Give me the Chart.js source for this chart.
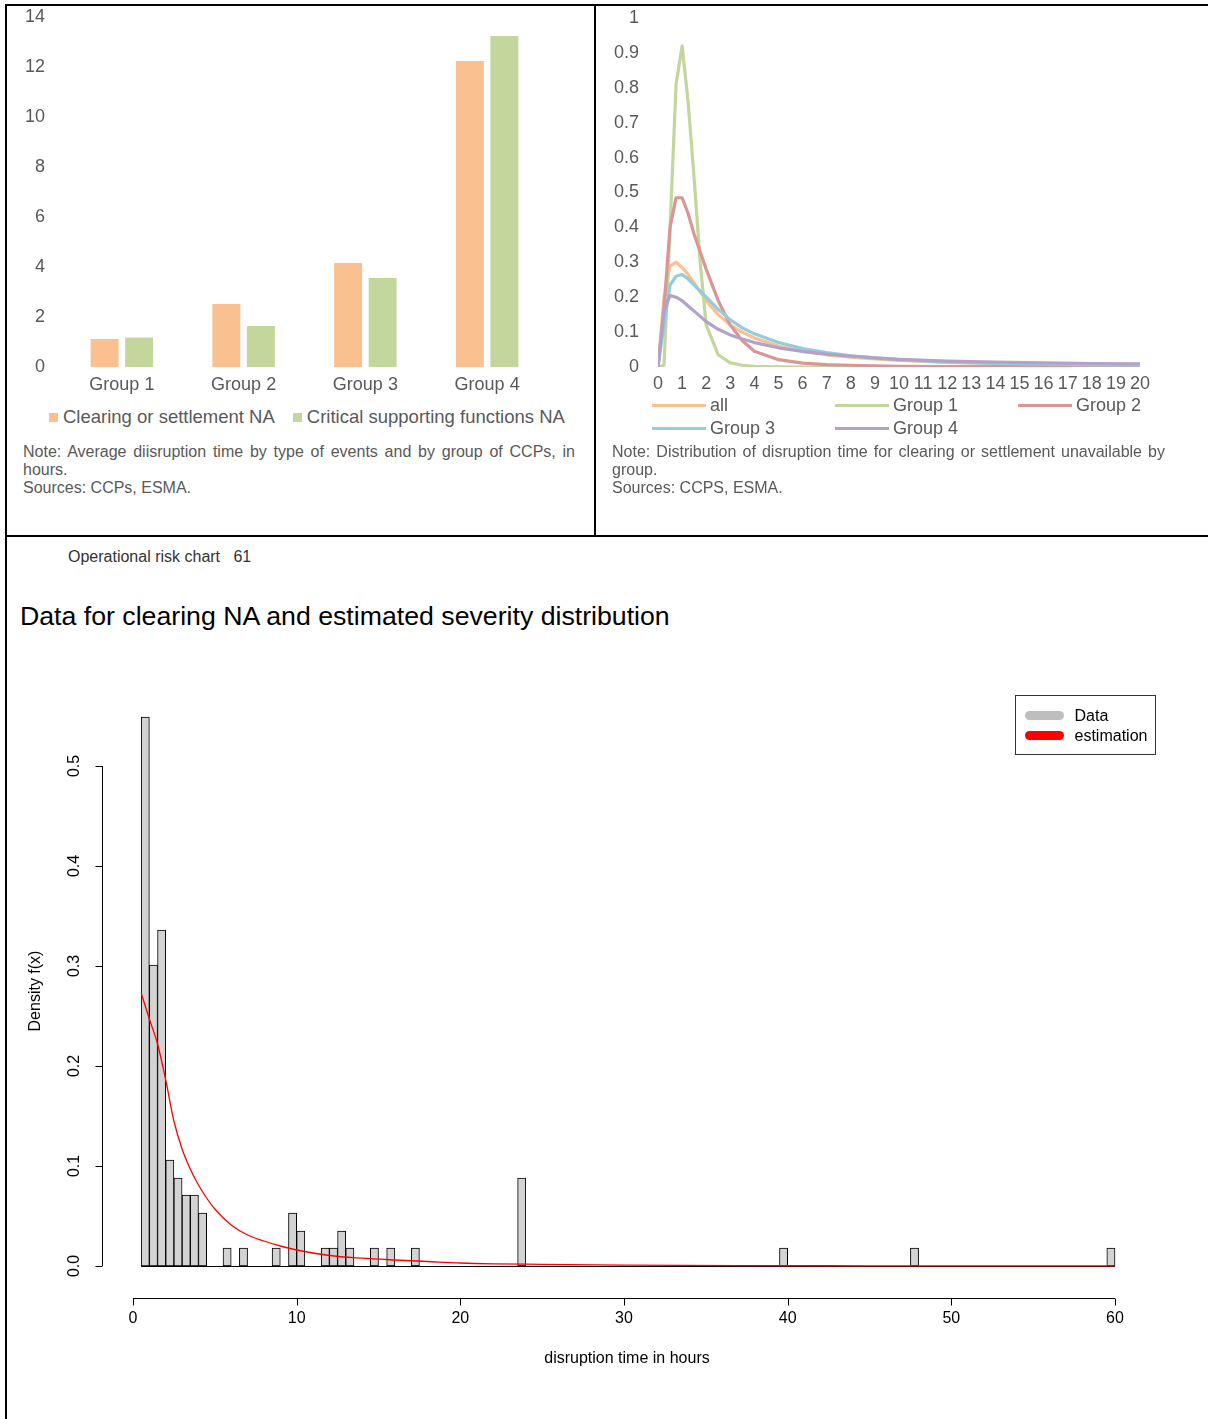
<!DOCTYPE html>
<html>
<head>
<meta charset="utf-8">
<script src="https://cdn.jsdelivr.net/npm/chart.js@4.4.1/dist/chart.umd.min.js"></script>
<style>
    body { margin: 0; width: 1208px; height: 1419px; position: relative; overflow: hidden; background: #fff;
           font-family: "Liberation Sans", Arial, sans-serif; }
    .rule { position: absolute; background: #000; }
    .box { position: absolute; }
    .note { position: absolute; font-size: 16px; line-height: 18px; color: #595959; text-align: justify; }
    .legA { position: absolute; font-size: 18.5px; line-height: 20px; color: #595959; white-space: nowrap; }
    .legA .sq { display: inline-block; width: 9px; height: 9px; margin-right: 5px; vertical-align: 1px; }
    .legB { position: absolute; display: grid; grid-template-columns: 183px 183px 183px; grid-auto-rows: 23px;
            font-size: 18px; color: #595959; }
    .legB div { display: flex; align-items: center; }
    .legB span { display: inline-block; width: 54px; height: 3px; margin-right: 4px; }
</style>
</head>
<body>
<div class="rule" style="left:5px;top:4px;width:1203px;height:2px"></div>
<div class="rule" style="left:5px;top:4px;width:2px;height:1415px"></div>
<div class="rule" style="left:594px;top:4px;width:2px;height:533px"></div>
<div class="rule" style="left:5px;top:535px;width:1203px;height:2px"></div>

<canvas id="barchart" class="box" width="587" height="400" style="left:7px;top:6px"></canvas>
<div id="legendA" class="legA" style="left:49px;top:407px"></div>
<div class="note" style="left:23px;top:443px;width:552px">Note: Average diisruption time by type of events and by group of CCPs, in hours.<br>Sources: CCPs, ESMA.</div>

<canvas id="linechart" class="box" width="611" height="400" style="left:597px;top:6px"></canvas>
<div id="legendB" class="legB" style="left:652px;top:394px"></div>
<div class="note" style="left:612px;top:443px;width:553px">Note: Distribution of disruption time for clearing or settlement unavailable by group.<br>Sources: CCPS, ESMA.</div>

<div class="box" style="left:68px;top:548px;font-size:16px;color:#333;white-space:pre">Operational risk chart   61</div>
<div class="box" style="left:20px;top:601px;font-size:26.7px;color:#000">Data for clearing NA and estimated severity distribution</div>
<canvas id="histchart" class="box" width="1201" height="779" style="left:7px;top:640px"></canvas>

<script>
// bar chart: average disruption time (hours)
const barGroups = ["Group 1", "Group 2", "Group 3", "Group 4"];
const barNames = ["Clearing or settlement NA", "Critical supporting functions NA"];
const clearingNA = [1.12, 2.52, 4.16, 12.24];
const supportNA = [1.18, 1.64, 3.56, 13.24];
const barColors = ["#FAC090", "#C3D69B"];

// line chart: distribution of disruption time by group
const lineX = [0, 0.25, 0.5, 0.75, 1, 1.25, 1.5, 1.75, 2, 2.5, 3, 3.5, 4, 5, 6, 7, 8, 9, 10, 12, 14, 16, 18, 20];
const lineNames = ["all", "Group 1", "Group 2", "Group 3", "Group 4"];
const distAll = [0, 0.20, 0.29, 0.30, 0.285, 0.265, 0.24, 0.215, 0.19, 0.15, 0.12, 0.10, 0.083, 0.06, 0.045, 0.035, 0.028, 0.023, 0.019, 0.013, 0.010, 0.008, 0.006, 0.005];
const distG1 = [0, 0.005, 0.40, 0.81, 0.92, 0.76, 0.54, 0.30, 0.12, 0.035, 0.012, 0.005, 0.002, 0.0005, 0, 0, 0, 0, 0, 0, 0, 0, 0, 0];
const distG2 = [0, 0.17, 0.40, 0.485, 0.485, 0.44, 0.38, 0.33, 0.28, 0.19, 0.12, 0.075, 0.045, 0.021, 0.011, 0.007, 0.005, 0.003, 0.002, 0.001, 0.001, 0.001, 0.001, 0.001];
const distG3 = [0, 0.12, 0.235, 0.26, 0.265, 0.252, 0.235, 0.218, 0.20, 0.165, 0.135, 0.112, 0.095, 0.07, 0.053, 0.041, 0.032, 0.026, 0.021, 0.014, 0.010, 0.008, 0.006, 0.005];
const distG4 = [0, 0.16, 0.205, 0.20, 0.19, 0.175, 0.16, 0.145, 0.13, 0.108, 0.092, 0.08, 0.07, 0.055, 0.045, 0.037, 0.031, 0.026, 0.022, 0.017, 0.014, 0.012, 0.010, 0.009];
const lineColors = ["#FAC08F", "#C3D69B", "#D99694", "#93CDDD", "#B3A2C7"];

// histogram: clearing NA durations (0.5 hour bins) and fitted density
const binWidth = 0.5;
const histBinStart = [0.5, 1.0, 1.5, 2.0, 2.5, 3.0, 3.5, 4.0, 5.5, 6.5, 8.5, 9.5, 10.0, 11.5, 12.0, 12.5, 13.0, 14.5, 15.5, 17.0, 23.5, 39.5, 47.5, 59.5];
const histDensity = [0.549, 0.301, 0.336, 0.106, 0.088, 0.071, 0.071, 0.053, 0.018, 0.018, 0.018, 0.053, 0.035, 0.018, 0.018, 0.035, 0.018, 0.018, 0.018, 0.018, 0.088, 0.018, 0.018, 0.018];
const estX = [0.5, 1, 1.5, 2, 2.5, 3, 3.5, 4, 4.5, 5, 6, 7, 8, 9, 10, 12, 14, 16, 18, 20, 22, 25, 30, 37, 45, 60];
const estY = [0.273, 0.247, 0.222, 0.186, 0.145, 0.117, 0.097, 0.081, 0.068, 0.057, 0.041, 0.031, 0.025, 0.020, 0.016, 0.0105, 0.0078, 0.006, 0.0045, 0.003, 0.0022, 0.0017, 0.0009, 0.0004, 0.0002, 0.0001];
const histXTicks = [0, 10, 20, 30, 40, 50, 60];
const histYTicks = [0, 0.1, 0.2, 0.3, 0.4, 0.5];

Chart.defaults.font.family = '"Liberation Sans", Arial, sans-serif';
Chart.defaults.animation = false;
Chart.defaults.plugins.tooltip.enabled = false;
Chart.defaults.plugins.legend.display = false;

const grey = "#595959";

// y axis with fixed width and no extra top/bottom padding from the tick labels
const fixedY = (w) => (scale) => {
    scale.width = w;
    scale.paddingTop = 0;
    scale.paddingBottom = 0;
};

// ---- bar chart
new Chart(document.getElementById("barchart"), {
    type: "bar",
    data: {
        labels: barGroups,
        datasets: [
            { label: barNames[0], data: clearingNA, backgroundColor: barColors[0] },
            { label: barNames[1], data: supportNA, backgroundColor: barColors[1] },
        ],
    },
    options: {
        responsive: false,
        devicePixelRatio: 1,
        categoryPercentage: 0.567,
        barPercentage: 0.81,
        layout: { padding: { top: 11, right: 46, left: 0, bottom: 0 } },
        scales: {
            x: {
                grid: { display: false, drawTicks: false },
                border: { display: false },
                ticks: { color: grey, font: { size: 18 }, padding: 7, maxRotation: 0 },
                afterFit(scale) { scale.height = 39; },
            },
            y: {
                min: 0, max: 14,
                grid: { display: false, drawTicks: false },
                border: { display: false },
                ticks: { stepSize: 2, color: grey, font: { size: 18 }, padding: 16 },
                afterFit: fixedY(54),
            },
        },
    },
});

const legA = document.getElementById("legendA");
barNames.forEach((name, i) => {
    const sq = document.createElement("span");
    sq.className = "sq";
    sq.style.background = barColors[i];
    if (i > 0) sq.style.marginLeft = "18px";
    legA.appendChild(sq);
    legA.appendChild(document.createTextNode(name));
});

// ---- line chart
const lineSeries = [distAll, distG1, distG2, distG3, distG4];
new Chart(document.getElementById("linechart"), {
    type: "line",
    data: {
        datasets: lineSeries.map((s, i) => ({
            label: lineNames[i],
            data: lineX.map((x, k) => ({ x: x, y: s[k] })),
            borderColor: lineColors[i],
            borderWidth: 3.2,
            borderJoinStyle: "round",
            borderCapStyle: "round",
            pointRadius: 0,
            tension: 0,
            order: lineSeries.length - i,
        })),
    },
    options: {
        responsive: false,
        devicePixelRatio: 1,
        layout: { padding: { top: 12, right: 68, left: 0, bottom: 0 } },
        scales: {
            x: {
                type: "linear", min: 0, max: 20,
                grid: { display: false, drawTicks: false },
                border: { display: false },
                ticks: { stepSize: 1, autoSkip: false, maxRotation: 0, color: grey, font: { size: 18 }, padding: 6 },
                afterFit(scale) { scale.height = 39; },
            },
            y: {
                min: 0, max: 1,
                grid: { display: false, drawTicks: false },
                border: { display: false },
                ticks: {
                    stepSize: 0.1, color: grey, font: { size: 18 }, padding: 19,
                    callback: (v) => String(Math.round(v * 10) / 10),
                },
                afterFit: fixedY(61),
            },
        },
    },
});

const legB = document.getElementById("legendB");
lineNames.forEach((name, i) => {
    const item = document.createElement("div");
    const sw = document.createElement("span");
    sw.style.background = lineColors[i];
    item.appendChild(sw);
    item.appendChild(document.createTextNode(name));
    legB.appendChild(item);
});

// ---- histogram with R style axes
const rAxes = {
    id: "rAxes",
    beforeDatasetsDraw(chart) {
        const { ctx, scales: { x, y } } = chart;
        const y0 = Math.round(y.getPixelForValue(0)) + 0.5;
        ctx.save();
        ctx.strokeStyle = "#000";
        ctx.lineWidth = 1;
        ctx.beginPath();
        ctx.moveTo(x.getPixelForValue(histBinStart[0]), y0);
        ctx.lineTo(x.getPixelForValue(histBinStart[histBinStart.length - 1] + binWidth), y0);
        ctx.stroke();
        ctx.restore();
    },
    afterDraw(chart) {
        const { ctx, chartArea, scales: { x, y } } = chart;
        ctx.save();
        ctx.strokeStyle = "#000";
        ctx.fillStyle = "#000";
        ctx.lineWidth = 1;
        ctx.font = '16px "Liberation Sans", Arial, sans-serif';

        // x axis
        const ax = Math.round(chartArea.bottom + 12) + 0.5;
        ctx.beginPath();
        ctx.moveTo(x.getPixelForValue(histXTicks[0]), ax);
        ctx.lineTo(x.getPixelForValue(histXTicks[histXTicks.length - 1]), ax);
        histXTicks.forEach(v => {
            const px = Math.round(x.getPixelForValue(v)) + 0.5;
            ctx.moveTo(px, ax);
            ctx.lineTo(px, ax + 7);
        });
        ctx.stroke();
        ctx.textAlign = "center";
        ctx.textBaseline = "middle";
        histXTicks.forEach(v => ctx.fillText(String(v), x.getPixelForValue(v), ax + 20));
        ctx.fillText("disruption time in hours", (chartArea.left + chartArea.right) / 2 + 3, ax + 60);

        // y axis
        const ay = Math.round(chartArea.left - 6) + 0.5;
        ctx.beginPath();
        ctx.moveTo(ay, y.getPixelForValue(histYTicks[0]));
        ctx.lineTo(ay, y.getPixelForValue(histYTicks[histYTicks.length - 1]));
        histYTicks.forEach(v => {
            const py = Math.round(y.getPixelForValue(v)) + 0.5;
            ctx.moveTo(ay, py);
            ctx.lineTo(ay - 7, py);
        });
        ctx.stroke();
        histYTicks.forEach(v => {
            ctx.save();
            ctx.translate(ay - 28, y.getPixelForValue(v));
            ctx.rotate(-Math.PI / 2);
            ctx.fillText(v.toFixed(1), 0, 0);
            ctx.restore();
        });
        ctx.save();
        ctx.translate(29, (chartArea.top + chartArea.bottom) / 2);
        ctx.rotate(-Math.PI / 2);
        ctx.fillText("Density f(x)", 0, 0);
        ctx.restore();

        // legend box, top right
        const bx = Math.round(chartArea.right - 125) + 0.5;
        const by = Math.round(chartArea.top - 1) + 0.5;
        ctx.strokeStyle = "#333";
        ctx.strokeRect(bx, by, 140, 59);
        ctx.textAlign = "left";
        const items = chart.data.datasets.slice().sort((a, b) => b.order - a.order);
        items.forEach((ds, i) => {
            const ly = by + 20 + i * 20;
            ctx.strokeStyle = ds.legendColor;
            ctx.lineWidth = 9;
            ctx.lineCap = "round";
            ctx.beginPath();
            ctx.moveTo(bx + 14, ly);
            ctx.lineTo(bx + 44, ly);
            ctx.stroke();
            ctx.fillStyle = "#000";
            ctx.fillText(ds.label, bx + 59, ly + 1);
        });
        ctx.restore();
    },
};

new Chart(document.getElementById("histchart"), {
    type: "bar",
    data: {
        datasets: [
            {
                type: "line",
                label: "estimation",
                data: estX.map((x, i) => ({ x: x, y: estY[i] })),
                borderColor: "#FF0000",
                legendColor: "#FF0000",
                borderWidth: 1.3,
                pointRadius: 0,
                cubicInterpolationMode: "monotone",
                order: 0,
            },
            {
                type: "bar",
                label: "Data",
                data: histBinStart.map((b, i) => ({ x: b + binWidth / 2, y: histDensity[i] })),
                backgroundColor: "#D3D3D3",
                legendColor: "#BEBEBE",
                borderColor: "#000",
                borderWidth: 1,
                borderSkipped: false,
                barPercentage: 1,
                categoryPercentage: 1,
                order: 1,
            },
        ],
    },
    options: {
        responsive: false,
        devicePixelRatio: 1,
        layout: { padding: { top: 56, right: 68.45, left: 101.45, bottom: 133 } },
        scales: {
            x: { type: "linear", min: -1.5, max: 61.5, display: false, offset: false },
            y: { min: -0.02, max: 0.57, display: false },
        },
    },
    plugins: [rAxes],
});
</script>
</body>
</html>
